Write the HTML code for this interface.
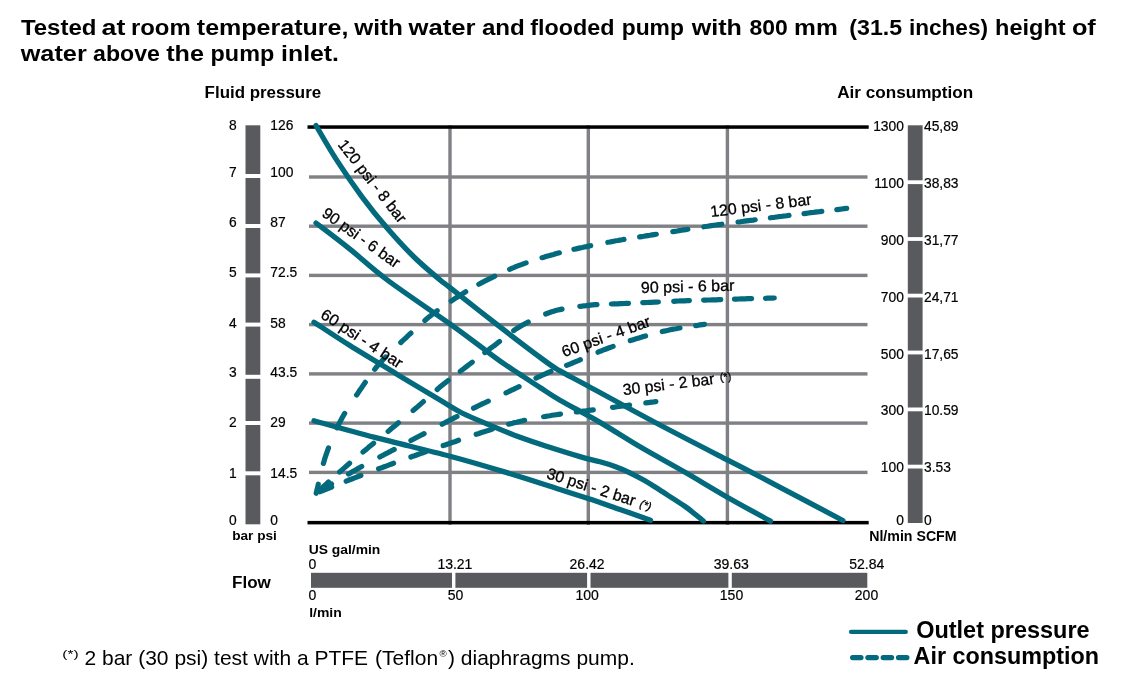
<!DOCTYPE html>
<html><head><meta charset="utf-8"><title>Pump performance chart</title>
<style>html,body{margin:0;padding:0;background:#fff;}body{width:1123px;height:686px;overflow:hidden;font-family:"Liberation Sans",sans-serif;}svg{display:block;will-change:transform}text{font-family:"Liberation Sans",sans-serif;fill:#000}.b{font-weight:bold}.l{stroke:#000;stroke-width:.3px}.n{stroke:#000;stroke-width:.2px}</style>
</head><body>
<svg width="1123" height="686" viewBox="0 0 1123 686">
<rect width="1123" height="686" fill="#fff"/>
<text x="20.9" y="35.0" font-size="21.2" class="b" textLength="75.5" lengthAdjust="spacingAndGlyphs">Tested</text>
<text x="101.6" y="35.0" font-size="21.2" class="b" textLength="23.8" lengthAdjust="spacingAndGlyphs">at</text>
<text x="130.9" y="35.0" font-size="21.2" class="b" textLength="59.8" lengthAdjust="spacingAndGlyphs">room</text>
<text x="196.8" y="35.0" font-size="21.2" class="b" textLength="151.6" lengthAdjust="spacingAndGlyphs">temperature,</text>
<text x="354.3" y="35.0" font-size="21.2" class="b" textLength="48.7" lengthAdjust="spacingAndGlyphs">with</text>
<text x="408.5" y="35.0" font-size="21.2" class="b" textLength="67.1" lengthAdjust="spacingAndGlyphs">water</text>
<text x="481.9" y="35.0" font-size="21.2" class="b" textLength="42.9" lengthAdjust="spacingAndGlyphs">and</text>
<text x="530.3" y="35.0" font-size="21.2" class="b" textLength="84.2" lengthAdjust="spacingAndGlyphs">flooded</text>
<text x="621.7" y="35.0" font-size="21.2" class="b" textLength="62.2" lengthAdjust="spacingAndGlyphs">pump</text>
<text x="691.7" y="35.0" font-size="21.2" class="b" textLength="50.2" lengthAdjust="spacingAndGlyphs">with</text>
<text x="749.5" y="35.0" font-size="21.2" class="b" textLength="38.3" lengthAdjust="spacingAndGlyphs">800</text>
<text x="794.1" y="35.0" font-size="21.2" class="b" textLength="43.7" lengthAdjust="spacingAndGlyphs">mm</text>
<text x="849.3" y="35.0" font-size="21.2" class="b" textLength="52.8" lengthAdjust="spacingAndGlyphs">(31.5</text>
<text x="908.9" y="35.0" font-size="21.2" class="b" textLength="79.1" lengthAdjust="spacingAndGlyphs">inches)</text>
<text x="995.1" y="35.0" font-size="21.2" class="b" textLength="70.5" lengthAdjust="spacingAndGlyphs">height</text>
<text x="1071.9" y="35.0" font-size="21.2" class="b" textLength="23.9" lengthAdjust="spacingAndGlyphs">of</text>
<text x="20.7" y="60.9" font-size="21.2" class="b" textLength="66.1" lengthAdjust="spacingAndGlyphs">water</text>
<text x="93.1" y="60.9" font-size="21.2" class="b" textLength="66.8" lengthAdjust="spacingAndGlyphs">above</text>
<text x="166.2" y="60.9" font-size="21.2" class="b" textLength="37.7" lengthAdjust="spacingAndGlyphs">the</text>
<text x="210.6" y="60.9" font-size="21.2" class="b" textLength="63.6" lengthAdjust="spacingAndGlyphs">pump</text>
<text x="281.1" y="60.9" font-size="21.2" class="b" textLength="57.9" lengthAdjust="spacingAndGlyphs">inlet.</text>
<text x="204.6" y="97.6" font-size="16.8" class="b" textLength="116.6" lengthAdjust="spacingAndGlyphs">Fluid pressure</text>
<text x="837.2" y="97.6" font-size="16.9" class="b" textLength="136.0" lengthAdjust="spacingAndGlyphs">Air consumption</text>
<rect x="309" y="175.3" width="558.5" height="3.4" fill="#808185" transform="translate(0,0)"/>
<rect x="309" y="224.5" width="558.5" height="3.4" fill="#808185" transform="translate(0,0)"/>
<rect x="309" y="273.7" width="558.5" height="3.4" fill="#808185" transform="translate(0,0)"/>
<rect x="309" y="322.9" width="558.5" height="3.4" fill="#808185" transform="translate(0,0)"/>
<rect x="309" y="372.2" width="558.5" height="3.4" fill="#808185" transform="translate(0,0)"/>
<rect x="309" y="421.4" width="558.5" height="3.4" fill="#808185" transform="translate(0,0)"/>
<rect x="309" y="470.7" width="558.5" height="3.4" fill="#808185" transform="translate(0,0)"/>
<rect x="448.3" y="125.3" width="3.4" height="399.5" fill="#808185"/>
<rect x="586.6" y="125.3" width="3.4" height="399.5" fill="#808185"/>
<rect x="725.7" y="125.3" width="3.4" height="399.5" fill="#808185"/>
<rect x="307.5" y="125.3" width="561.2" height="3.5" fill="#000"/>
<rect x="307.5" y="520.9" width="561.2" height="3.5" fill="#000"/>
<rect x="245.5" y="125.3" width="14.8" height="399" fill="#595a5e"/>
<rect x="245" y="174.0" width="16" height="4" fill="#fff"/>
<rect x="245" y="224.0" width="16" height="4" fill="#fff"/>
<rect x="245" y="273.4" width="16" height="4" fill="#fff"/>
<rect x="245" y="322.6" width="16" height="4" fill="#fff"/>
<rect x="245" y="374.8" width="16" height="4" fill="#fff"/>
<rect x="245" y="421.0" width="16" height="4" fill="#fff"/>
<rect x="245" y="471.3" width="16" height="4" fill="#fff"/>
<text x="229.0" y="129.8" font-size="13.8" class="n">8</text>
<text x="270.3" y="129.8" font-size="13.8" class="n">126</text>
<text x="229.0" y="176.8" font-size="13.8" class="n">7</text>
<text x="270.3" y="176.8" font-size="13.8" class="n">100</text>
<text x="229.0" y="226.7" font-size="13.8" class="n">6</text>
<text x="270.3" y="226.7" font-size="13.8" class="n">87</text>
<text x="229.0" y="277.4" font-size="13.8" class="n">5</text>
<text x="270.3" y="277.4" font-size="13.8" class="n">72.5</text>
<text x="229.0" y="328.4" font-size="13.8" class="n">4</text>
<text x="270.3" y="328.4" font-size="13.8" class="n">58</text>
<text x="229.0" y="376.9" font-size="13.8" class="n">3</text>
<text x="270.3" y="376.9" font-size="13.8" class="n">43.5</text>
<text x="229.0" y="426.7" font-size="13.8" class="n">2</text>
<text x="270.3" y="426.7" font-size="13.8" class="n">29</text>
<text x="229.0" y="477.5" font-size="13.8" class="n">1</text>
<text x="270.3" y="477.5" font-size="13.8" class="n">14.5</text>
<text x="229.0" y="524.5" font-size="13.8" class="n">0</text>
<text x="270.3" y="524.5" font-size="13.8" class="n">0</text>
<text x="232.2" y="539.6" font-size="13.6" class="b" textLength="44.6" lengthAdjust="spacingAndGlyphs">bar psi</text>
<rect x="907.8" y="125.3" width="14.8" height="397.7" fill="#595a5e"/>
<rect x="907" y="180.3" width="16.5" height="3.8" fill="#fff"/>
<rect x="907" y="237.1" width="16.5" height="3.8" fill="#fff"/>
<rect x="907" y="293.7" width="16.5" height="3.8" fill="#fff"/>
<rect x="907" y="350.6" width="16.5" height="3.8" fill="#fff"/>
<rect x="907" y="407.5" width="16.5" height="3.8" fill="#fff"/>
<rect x="907" y="464.7" width="16.5" height="3.8" fill="#fff"/>
<text x="903.9" y="131.0" font-size="13.8" class="n" text-anchor="end">1300</text>
<text x="924.0" y="131.0" font-size="13.8" class="n">45,89</text>
<text x="903.9" y="188.0" font-size="13.8" class="n" text-anchor="end">1100</text>
<text x="924.0" y="188.0" font-size="13.8" class="n">38,83</text>
<text x="903.9" y="244.8" font-size="13.8" class="n" text-anchor="end">900</text>
<text x="924.0" y="244.8" font-size="13.8" class="n">31,77</text>
<text x="903.9" y="301.7" font-size="13.8" class="n" text-anchor="end">700</text>
<text x="924.0" y="301.7" font-size="13.8" class="n">24,71</text>
<text x="903.9" y="359.0" font-size="13.8" class="n" text-anchor="end">500</text>
<text x="924.0" y="359.0" font-size="13.8" class="n">17,65</text>
<text x="903.9" y="414.7" font-size="13.8" class="n" text-anchor="end">300</text>
<text x="924.0" y="414.7" font-size="13.8" class="n">10.59</text>
<text x="903.9" y="471.7" font-size="13.8" class="n" text-anchor="end">100</text>
<text x="924.0" y="471.7" font-size="13.8" class="n">3.53</text>
<text x="903.9" y="525.2" font-size="13.8" class="n" text-anchor="end">0</text>
<text x="924.0" y="525.2" font-size="13.8" class="n">0</text>
<text x="869.2" y="540.9" font-size="13.9" class="b" textLength="87.4" lengthAdjust="spacingAndGlyphs">Nl/min SCFM</text>
<text x="308.7" y="553.8" font-size="13.7" class="b" textLength="71.6" lengthAdjust="spacingAndGlyphs">US gal/min</text>
<rect x="311" y="572.8" width="556.3" height="15" fill="#595a5e"/>
<rect x="452.0" y="572" width="3.4" height="16.5" fill="#fff"/>
<rect x="587.1" y="572" width="3.4" height="16.5" fill="#fff"/>
<rect x="728.4" y="572" width="3.4" height="16.5" fill="#fff"/>
<text x="308.5" y="569.1" font-size="14.0" class="n">0</text>
<text x="454.9" y="569.1" font-size="14.0" class="n" text-anchor="middle">13.21</text>
<text x="587.1" y="569.1" font-size="14.0" class="n" text-anchor="middle">26.42</text>
<text x="731.3" y="569.1" font-size="14.0" class="n" text-anchor="middle">39.63</text>
<text x="866.8" y="569.1" font-size="14.0" class="n" text-anchor="middle">52.84</text>
<text x="308.5" y="599.6" font-size="14.0" class="n">0</text>
<text x="455.5" y="599.6" font-size="14.0" class="n" text-anchor="middle">50</text>
<text x="587.2" y="599.6" font-size="14.0" class="n" text-anchor="middle">100</text>
<text x="731.5" y="599.6" font-size="14.0" class="n" text-anchor="middle">150</text>
<text x="866.5" y="599.6" font-size="14.0" class="n" text-anchor="middle">200</text>
<text x="309.2" y="616.9" font-size="13.7" class="b" textLength="32.6" lengthAdjust="spacingAndGlyphs">l/min</text>
<text x="232.0" y="588.0" font-size="16.9" class="b" textLength="38.8" lengthAdjust="spacingAndGlyphs">Flow</text>
<path d="M316.0 125.5 C319.5 131.4 329.5 149.0 337.2 160.9 C344.9 172.8 353.6 185.5 362.0 196.8 C370.4 208.1 378.8 218.5 387.5 228.5 C396.2 238.5 405.3 248.5 414.0 257.0 C422.7 265.5 433.5 274.4 439.5 279.5 C445.5 284.6 440.4 280.1 450.0 287.6 C459.6 295.1 481.2 312.3 496.8 324.4 C512.4 336.5 533.1 352.2 543.6 360.0 C554.1 367.8 552.6 366.6 560.0 370.9 C567.4 375.2 572.0 377.3 588.0 386.0 C604.0 394.7 633.0 410.7 656.2 423.0 C679.4 435.3 711.4 451.7 727.3 459.9 C743.2 468.1 742.8 467.8 751.6 472.4 C760.4 477.0 764.9 479.3 780.1 487.3 C795.3 495.3 832.4 515.0 842.9 520.5" fill="none" stroke="#036a7d" stroke-width="5.3" stroke-linecap="round" stroke-linejoin="round"/>
<path d="M316.0 223.0 C321.6 227.3 337.7 239.4 349.6 248.9 C361.5 258.4 370.5 267.4 387.3 280.0 C404.1 292.6 434.1 312.6 450.6 324.4 C467.1 336.2 477.1 344.1 486.2 350.8 C495.2 357.5 499.3 360.5 504.9 364.4 C510.5 368.3 514.0 370.4 519.9 374.3 C525.8 378.2 533.3 383.2 540.0 387.5 C546.7 391.8 549.6 394.2 560.0 400.2 C570.4 406.2 588.8 415.8 602.1 423.6 C615.4 431.4 626.2 438.7 640.0 446.8 C653.8 454.9 670.6 463.9 685.1 472.3 C699.6 480.7 713.1 489.1 727.3 497.2 C741.5 505.3 763.3 517.1 770.5 521.1" fill="none" stroke="#036a7d" stroke-width="5.3" stroke-linecap="round" stroke-linejoin="round"/>
<path d="M314.0 322.2 C320.0 326.1 336.2 337.0 349.9 345.6 C363.6 354.2 381.1 364.6 396.1 373.7 C411.1 382.8 429.0 393.6 440.0 400.1 C451.0 406.7 453.8 408.9 462.0 413.0 C470.2 417.1 479.6 420.8 489.3 424.8 C499.0 428.9 510.3 433.7 520.0 437.3 C529.7 440.9 537.3 443.3 547.3 446.5 C557.3 449.7 571.2 454.1 580.0 456.6 C588.8 459.2 594.2 460.2 600.0 461.8 C605.8 463.4 610.0 464.7 615.0 466.5 C620.0 468.3 624.9 470.4 629.9 472.8 C634.9 475.2 640.0 477.9 645.0 480.8 C650.0 483.7 653.2 485.9 659.8 490.1 C666.4 494.4 678.6 502.0 684.8 506.3 C691.0 510.6 693.9 513.3 697.0 515.8 C700.1 518.2 702.3 520.1 703.4 521.0" fill="none" stroke="#036a7d" stroke-width="5.3" stroke-linecap="round" stroke-linejoin="round"/>
<path d="M314.0 420.7 C324.1 423.5 352.1 431.5 374.8 437.4 C397.5 443.3 428.1 450.4 450.0 456.2 C471.9 462.0 487.8 466.8 506.1 472.4 C524.4 477.9 546.3 485.1 560.0 489.5 C573.7 493.9 578.1 495.2 588.1 498.5 C598.1 501.8 609.6 505.9 620.0 509.5 C630.4 513.1 645.4 518.5 650.5 520.3" fill="none" stroke="#036a7d" stroke-width="5.3" stroke-linecap="round" stroke-linejoin="round"/>
<path d="M316.2 493.3 L316.7 491.0 L317.3 488.8 L317.8 486.5 L318.3 484.2 M323.4 463.4 L324.0 461.5 L324.5 459.5 L325.1 457.6 L325.8 455.7 L326.4 453.8 L327.1 451.8 L327.8 449.9 L328.5 448.0 M337.0 427.8 L337.9 426.0 L338.8 424.2 L339.7 422.4 L340.7 420.6 L341.6 418.8 L342.6 417.0 L343.6 415.2 L344.7 413.4 M356.6 395.0 L357.9 393.2 L359.1 391.3 L360.3 389.5 L361.6 387.7 L362.8 385.9 L364.1 384.1 L365.3 382.3 M374.7 369.3 L376.0 367.7 L377.3 366.1 L378.6 364.6 L380.0 363.0 L381.4 361.5 L382.8 360.0 L384.2 358.5 L385.6 357.0 M400.8 342.5 L402.5 340.9 L404.2 339.4 L405.9 337.8 L407.6 336.2 L409.2 334.7 L410.9 333.1 M424.9 320.5 L426.6 319.0 L428.3 317.6 L430.0 316.2 L431.8 314.8 L433.6 313.4 L435.4 312.1 L437.2 310.7 M451.2 301.0 L453.0 299.8 L454.8 298.6 L456.6 297.5 L458.4 296.3 L460.2 295.2 L462.0 294.1 L463.9 292.9 L465.7 291.8 M478.8 284.3 L480.8 283.2 L482.8 282.2 L484.7 281.1 L486.7 280.1 L488.7 279.1 L490.8 278.1 L492.8 277.1 L494.8 276.1 M509.6 269.3 L511.7 268.4 L513.7 267.6 L515.8 266.7 L517.8 265.9 L519.9 265.1 L522.0 264.4 L524.0 263.6 L526.1 262.9 M542.0 257.7 L543.9 257.2 L545.8 256.6 L547.8 256.0 L549.7 255.5 L551.6 254.9 L553.6 254.4 L555.5 253.8 L557.5 253.3 L559.4 252.8 M573.9 249.3 L576.0 248.9 L578.1 248.4 L580.2 247.9 L582.3 247.5 L584.4 247.0 L586.5 246.6 L588.6 246.1 L590.7 245.7 M607.8 242.3 L609.8 242.0 L611.8 241.6 L613.8 241.2 L615.9 240.8 L617.9 240.5 L619.9 240.1 L621.9 239.8 L624.0 239.4 M639.6 236.9 L641.7 236.6 L643.8 236.3 L645.9 235.9 L648.0 235.6 L650.0 235.3 L652.1 234.9 L654.2 234.6 L656.3 234.3 M672.8 231.6 L675.0 231.3 L677.1 231.0 L679.3 230.6 L681.4 230.3 L683.6 229.9 L685.8 229.6 L687.9 229.3 M703.8 226.8 L705.8 226.5 L707.8 226.2 L709.8 225.9 L711.8 225.6 L713.8 225.3 L715.8 225.0 L717.8 224.7 L719.8 224.5 L721.8 224.2 M738.0 222.0 L740.2 221.8 L742.3 221.5 L744.5 221.2 L746.6 220.9 L748.8 220.6 L750.9 220.3 L753.1 220.1 L755.2 219.8 M770.4 217.8 L772.4 217.5 L774.5 217.3 L776.6 217.0 L778.6 216.7 L780.7 216.5 L782.8 216.2 L784.8 216.0 L786.9 215.7 L789.0 215.4 M804.0 213.6 L806.2 213.3 L808.5 213.0 L810.7 212.7 L812.9 212.5 L815.2 212.2 L817.4 211.9 L819.6 211.7 L821.8 211.4 M836.8 209.6 L839.3 209.3 L841.8 209.0 L844.2 208.7 L846.7 208.4" fill="none" stroke="#036a7d" stroke-width="5.2" stroke-linecap="round" stroke-linejoin="round"/>
<path d="M319.3 490.5 L320.8 489.1 L322.4 487.7 L323.9 486.2 L325.5 484.8 L327.0 483.4 L328.5 482.0 M339.6 472.0 L341.2 470.6 L342.9 469.1 L344.6 467.6 L346.2 466.2 L347.9 464.7 L349.6 463.2 M363.0 452.0 L364.8 450.5 L366.6 449.1 L368.3 447.6 L370.1 446.1 L371.8 444.7 L373.6 443.2 M388.1 431.4 L389.8 430.0 L391.5 428.5 L393.2 427.1 L395.0 425.7 L396.7 424.3 L398.4 422.8 M413.1 410.5 L414.9 409.0 L416.6 407.6 L418.3 406.1 L420.0 404.6 L421.7 403.1 L423.4 401.6 M437.2 389.5 L438.7 388.1 L440.2 386.8 L441.8 385.5 L443.4 384.2 L445.0 383.0 L446.6 381.7 L448.2 380.4 M460.3 371.3 L462.0 370.0 L463.7 368.7 L465.4 367.4 L467.1 366.1 L468.8 364.8 L470.5 363.5 L472.2 362.2 M484.8 352.6 L486.5 351.4 L488.1 350.2 L489.7 348.9 L491.4 347.7 L493.0 346.5 L494.6 345.3 L496.3 344.0 L497.9 342.7 L499.5 341.5 M513.7 330.6 L515.4 329.4 L517.2 328.3 L518.9 327.1 L520.8 326.1 L522.6 325.0 L524.4 324.0 L526.3 323.0 L528.2 322.0 M545.7 314.0 L547.7 313.2 L549.7 312.5 L551.7 311.8 L553.7 311.2 L555.8 310.6 L557.8 310.1 L559.9 309.6 L562.0 309.1 M579.8 306.3 L582.0 306.1 L584.1 305.8 L586.2 305.6 L588.4 305.3 L590.5 305.1 L592.7 304.9 L594.8 304.7 L597.0 304.6 M611.3 304.0 L613.5 303.9 L615.6 303.9 L617.8 303.8 L619.9 303.7 L622.0 303.6 L624.2 303.5 L626.3 303.4 L628.5 303.3 M642.7 302.7 L644.9 302.6 L647.1 302.5 L649.4 302.4 L651.6 302.3 L653.9 302.2 L656.1 302.1 L658.4 302.0 M673.7 301.3 L675.9 301.1 L678.2 301.0 L680.4 300.9 L682.7 300.9 L684.9 300.8 L687.1 300.7 L689.4 300.6 M703.6 300.2 L705.7 300.1 L707.9 300.0 L710.0 300.0 L712.2 299.9 L714.3 299.8 L716.5 299.8 L718.6 299.7 L720.8 299.6 M734.5 299.1 L736.6 299.1 L738.7 299.0 L740.9 298.9 L743.0 298.9 L745.2 298.8 L747.3 298.7 L749.5 298.7 L751.6 298.6 M765.5 298.3 L767.7 298.2 L769.9 298.1 L772.1 298.1 L774.3 298.0" fill="none" stroke="#036a7d" stroke-width="5.2" stroke-linecap="round" stroke-linejoin="round"/>
<path d="M319.8 491.1 L321.7 490.0 L323.7 488.8 L325.6 487.6 L327.6 486.5 L329.5 485.3 L331.5 484.1 M348.5 474.0 L350.4 472.9 L352.3 471.8 L354.2 470.7 L356.0 469.7 L357.9 468.6 L359.8 467.6 L361.7 466.5 M379.8 457.0 L381.6 456.0 L383.4 455.1 L385.2 454.1 L387.0 453.2 L388.8 452.2 L390.6 451.3 L392.4 450.3 L394.2 449.4 M410.9 440.5 L412.8 439.5 L414.7 438.5 L416.6 437.5 L418.5 436.5 L420.4 435.5 L422.2 434.6 L424.1 433.6 M442.1 424.2 L443.9 423.2 L445.8 422.2 L447.7 421.3 L449.5 420.3 L451.4 419.4 L453.3 418.4 L455.2 417.4 L457.0 416.5 M473.5 408.2 L475.3 407.3 L477.2 406.4 L479.0 405.5 L480.8 404.6 L482.7 403.7 L484.6 402.9 L486.4 402.0 L488.3 401.1 M506.0 392.9 L507.9 392.0 L509.7 391.1 L511.6 390.2 L513.5 389.3 L515.4 388.4 L517.2 387.5 L519.1 386.6 M536.0 378.1 L537.9 377.2 L539.7 376.3 L541.6 375.5 L543.5 374.6 L545.3 373.8 L547.2 373.0 L549.1 372.2 L551.0 371.4 M566.6 365.4 L568.6 364.6 L570.5 363.8 L572.5 363.0 L574.5 362.2 L576.4 361.4 L578.4 360.6 L580.4 359.7 M598.0 352.2 L599.9 351.4 L601.8 350.7 L603.6 349.9 L605.5 349.2 L607.4 348.5 L609.3 347.8 L611.2 347.1 L613.1 346.4 M630.3 340.6 L632.5 339.9 L634.7 339.2 L636.8 338.6 L639.0 337.9 L641.2 337.3 L643.4 336.6 L645.6 336.0 M662.3 331.6 L664.2 331.1 L666.2 330.7 L668.2 330.3 L670.1 329.8 L672.1 329.4 L674.1 329.0 L676.1 328.7 L678.1 328.3 L680.0 328.0 M695.7 325.6 L697.9 325.3 L700.1 324.9 L702.3 324.6 L704.5 324.3" fill="none" stroke="#036a7d" stroke-width="5.2" stroke-linecap="round" stroke-linejoin="round"/>
<path d="M320.1 491.7 L322.0 490.9 L323.9 490.2 L325.9 489.4 L327.8 488.6 L329.7 487.8 L331.7 487.0 M346.2 481.2 L348.3 480.3 L350.4 479.5 L352.5 478.7 L354.6 477.9 L356.7 477.1 L358.8 476.3 L360.9 475.5 M378.6 468.8 L380.5 468.1 L382.3 467.5 L384.2 466.8 L386.1 466.1 L388.0 465.4 L389.8 464.7 L391.7 464.0 L393.6 463.3 M410.9 457.0 L412.8 456.3 L414.7 455.7 L416.6 455.0 L418.5 454.3 L420.4 453.6 L422.3 453.0 L424.2 452.3 L426.1 451.6 M443.2 445.6 L445.1 445.0 L447.1 444.3 L449.0 443.6 L450.9 443.0 L452.8 442.3 L454.8 441.7 L456.7 441.0 L458.6 440.3 M476.2 434.3 L478.2 433.7 L480.2 433.0 L482.2 432.3 L484.2 431.7 L486.3 431.1 L488.3 430.4 L490.3 429.8 L492.3 429.1 M508.6 424.2 L510.6 423.7 L512.6 423.2 L514.6 422.6 L516.6 422.2 L518.6 421.7 L520.6 421.2 L522.6 420.8 L524.6 420.3 M543.6 416.7 L545.7 416.4 L547.8 416.0 L549.9 415.7 L552.0 415.3 L554.1 415.0 L556.2 414.7 L558.4 414.4 L560.5 414.1 M576.3 412.0 L578.4 411.8 L580.5 411.5 L582.6 411.2 L584.8 411.0 L586.9 410.7 L589.0 410.4 L591.2 410.1 L593.3 409.9 M612.5 407.3 L614.6 407.1 L616.7 406.8 L618.9 406.5 L621.0 406.2 L623.2 405.9 L625.3 405.6 L627.5 405.4 L629.6 405.1 M645.8 402.9 L647.9 402.7 L649.9 402.4 L651.9 402.1 L653.9 401.9 L655.9 401.6" fill="none" stroke="#036a7d" stroke-width="5.2" stroke-linecap="round" stroke-linejoin="round"/>
<text x="337.2" y="144.8" font-size="15.8" class="l" textLength="100.6" lengthAdjust="spacingAndGlyphs" transform="rotate(52.0 337.2 144.8)">120 psi - 8 bar</text>
<text x="321.0" y="215.4" font-size="15.8" class="l" textLength="91.5" lengthAdjust="spacingAndGlyphs" transform="rotate(35.6 321.0 215.4)">90 psi - 6 bar</text>
<text x="319.6" y="317.2" font-size="15.8" class="l" textLength="94.4" lengthAdjust="spacingAndGlyphs" transform="rotate(33.2 319.6 317.2)">60 psi - 4 bar</text>
<text x="545.7" y="477.9" font-size="15.8" class="l" transform="rotate(17.8 545.7 477.9)">30 psi - 2 bar<tspan font-size="11" dx="5.5" dy="-1" font-style="italic">(*)</tspan></text>
<text x="710.9" y="217.0" font-size="15.8" class="l" textLength="101.8" lengthAdjust="spacingAndGlyphs" transform="rotate(-7.0 710.9 217.0)">120 psi - 8 bar</text>
<text x="641.0" y="293.0" font-size="15.8" class="l" textLength="93.5" lengthAdjust="spacingAndGlyphs" transform="rotate(-1.5 641.0 293.0)">90 psi - 6 bar</text>
<text x="564.1" y="357.2" font-size="15.8" class="l" textLength="93.0" lengthAdjust="spacingAndGlyphs" transform="rotate(-19.8 564.1 357.2)">60 psi - 4 bar</text>
<text x="623.5" y="395.2" font-size="15.8" class="l" transform="rotate(-7.0 623.5 395.2)">30 psi - 2 bar<tspan font-size="11" dx="5.5" dy="-2.2">(*)</tspan></text>
<path d="M851 631.9H905.8" stroke="#036a7d" stroke-width="4.2" stroke-linecap="round"/>
<path d="M852.6 657.6H907" stroke="#036a7d" stroke-width="5.2" stroke-linecap="round" stroke-dasharray="8.4 6.9"/>
<text x="916.2" y="638.1" font-size="23.3" class="b" textLength="173.4" lengthAdjust="spacingAndGlyphs">Outlet pressure</text>
<text x="913.6" y="664.3" font-size="23.3" class="b" textLength="185.4" lengthAdjust="spacingAndGlyphs">Air consumption</text>
<text x="62.3" y="658.1" font-size="11.6" textLength="16.4" lengthAdjust="spacingAndGlyphs" lengthAdjust="spacing">(*)</text>
<text x="84.5" y="664.6" font-size="21.0">2 bar (30 psi) test with a PTFE</text>
<text x="375.1" y="664.6" font-size="21.0">(Teflon</text>
<text x="439.5" y="656.6" font-size="9.8">&#174;</text>
<text x="448.0" y="664.6" font-size="21.0">) diaphragms pump.</text>
</svg>
</body></html>
